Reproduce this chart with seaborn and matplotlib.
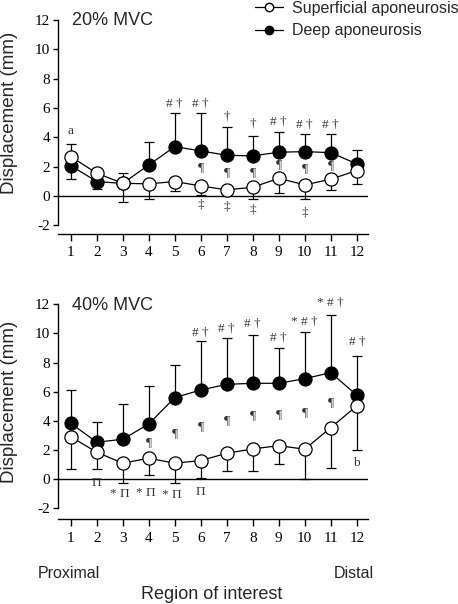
import numpy as np
import matplotlib
matplotlib.use("Agg")
import matplotlib.pyplot as plt
from matplotlib.lines import Line2D
import seaborn as sns

# regions of interest along the muscle
regions = [1, 2, 3, 4, 5, 6, 7, 8, 9, 10, 11, 12]

# 20% MVC
deep20 = [2.07, 0.98, 0.85, 2.11, 3.36, 3.07, 2.77, 2.73, 2.98, 3.02, 2.95, 2.18]
deep20_sd = [0.91, 0.50, 0.70, 1.59, 2.32, 2.56, 1.91, 1.36, 1.40, 1.18, 1.25, 0.96]
deep20_dir = [-1, -1, 1, 1, 1, 1, 1, 1, 1, 1, 1, 1]
sup20 = [2.68, 1.55, 0.86, 0.82, 0.98, 0.68, 0.41, 0.59, 1.20, 0.75, 1.14, 1.73]
sup20_sd = [0.86, 0.34, 1.31, 1.05, 0.68, 0.61, 0.25, 0.79, 0.97, 0.98, 0.77, 0.91]
sup20_dir = [1, 1, -1, -1, -1, -1, -1, -1, -1, -1, -1, -1]

# 40% MVC
deep40 = [3.84, 2.54, 2.74, 3.79, 5.60, 6.12, 6.51, 6.58, 6.58, 6.90, 7.31, 5.76]
deep40_sd = [2.28, 1.41, 2.40, 2.63, 2.22, 3.34, 3.18, 3.29, 2.45, 3.22, 3.94, 2.72]
deep40_dir = [1, 1, 1, 1, 1, 1, 1, 1, 1, 1, 1, 1]
sup40 = [2.92, 1.85, 1.10, 1.44, 1.10, 1.28, 1.78, 2.08, 2.30, 2.06, 3.54, 5.03]
sup40_sd = [2.19, 1.12, 1.37, 1.15, 1.33, 1.21, 1.21, 1.51, 1.25, 2.06, 2.79, 3.02]
sup40_dir = [-1, -1, -1, -1, -1, -1, -1, -1, -1, -1, -1, -1]

# significance marks (x, y, text)
marks20 = [
    (1, 4.43, "a"),
    (5, 6.30, "# †"), (6, 6.30, "# †"), (7, 5.40, "†"), (8, 4.95, "†"),
    (9, 5.07, "# †"), (10, 4.84, "# †"), (11, 4.90, "# †"),
    (6, 2.00, "¶"), (7, 1.66, "¶"), (8, 1.66, "¶"), (9, 2.18, "¶"),
    (10, 1.89, "¶"), (11, 2.11, "¶"),
    (6, -0.61, "‡"), (7, -0.73, "‡"), (8, -0.91, "‡"), (10, -1.11, "‡"),
]
marks40 = [
    (6, 10.06, "# †"), (7, 10.35, "# †"), (8, 10.65, "# †"), (9, 9.74, "# †"),
    (10, 10.81, "* # †"), (11, 12.11, "* # †"), (12, 9.44, "# †"),
    (4, 2.58, "¶"), (5, 3.15, "¶"), (6, 3.65, "¶"), (7, 4.07, "¶"),
    (8, 4.41, "¶"), (9, 4.48, "¶"), (10, 4.64, "¶"), (11, 5.32, "¶"),
    (2, -0.23, "Π"), (2.9, -1.03, "* Π"), (3.9, -0.96, "* Π"),
    (4.9, -1.08, "* Π"), (6, -0.85, "Π"),
    (12, 1.14, "b"),
]

sns.set_style("ticks")
plt.rcParams["font.family"] = ["Liberation Sans", "DejaVu Sans"]
plt.rcParams["axes.unicode_minus"] = False

SERIF = ["Liberation Serif", "DejaVu Serif"]

fig = plt.figure(figsize=(4.58, 6.04), dpi=100)
ax1 = fig.add_axes([57.7 / 458, 1 - 234 / 604, 310.3 / 458, 214 / 604])
ax2 = fig.add_axes([57.7 / 458, 1 - 519.3 / 604, 310.3 / 458, 215 / 604])


def panel(ax, deep, deep_sd, deep_dir, sup, sup_sd, sup_dir, marks, title, ybot):
    for mean, sd, d, z in [(deep, deep_sd, deep_dir, 1), (sup, sup_sd, sup_dir, 2)]:
        sd = np.array(sd)
        d = np.array(d)
        lower = np.where(d < 0, sd, 0)
        upper = np.where(d > 0, sd, 0)
        ax.errorbar(regions, mean, yerr=[lower, upper], fmt="none", ecolor="black",
                    elinewidth=0.9, capsize=3.5, capthick=0.9, zorder=z)
    sns.lineplot(x=regions, y=deep, ax=ax, color="black", marker="o", markersize=9.5,
                 markerfacecolor="black", markeredgecolor="black", linewidth=0.9, zorder=3)
    sns.lineplot(x=regions, y=sup, ax=ax, color="black", marker="o", markersize=9.5,
                 markerfacecolor="white", markeredgecolor="black", markeredgewidth=0.9,
                 linewidth=0.9, zorder=4)
    ax.axhline(0, color="black", lw=1.0, zorder=0)
    for x, y, t in marks:
        ax.text(x, y, t, ha="center", va="center", fontsize=9.5, family=SERIF,
                color="#333333", clip_on=False)
    ax.text(1.05, 11.95, title, ha="left", va="center", fontsize=13)
    ax.set_xlim(0.5, 12.43)
    ax.set_ylim(ybot, 12)
    ax.set_xticks(regions)
    ax.set_xticklabels([str(r) for r in regions])
    yt = np.arange(-2, 13, 2)
    ax.set_yticks(yt)
    ax.set_yticklabels([str(v) for v in yt])
    for lbl in ax.get_xticklabels() + ax.get_yticklabels():
        lbl.set_fontfamily(SERIF)
        lbl.set_fontsize(11)
    ax.spines["top"].set_visible(False)
    ax.spines["right"].set_visible(False)
    ax.spines["left"].set_bounds(-2, 12)
    for s in ["left", "bottom"]:
        ax.spines[s].set_linewidth(1.0)
        ax.spines[s].set_color("black")
    ax.tick_params(axis="x", length=5, width=1.0, pad=4, colors="black")
    ax.tick_params(axis="y", length=3.5, width=1.0, pad=2, colors="black")
    ax.set_ylabel("Displacement (mm)", fontsize=13.5)
    ax.set_xlabel("")


panel(ax1, deep20, deep20_sd, deep20_dir, sup20, sup20_sd, sup20_dir, marks20, "20% MVC", -2.6)
panel(ax2, deep40, deep40_sd, deep40_dir, sup40, sup40_sd, sup40_dir, marks40, "40% MVC", -2.75)
ax1.yaxis.set_label_coords(-0.128, 0.565)
ax2.yaxis.set_label_coords(-0.128, 0.545)

ax2.set_xlabel("Region of interest", fontsize=13)
ax2.xaxis.set_label_coords(0.497, -0.31)
fig.text(38 / 458, 1 - 573 / 604, "Proximal", ha="left", va="center", fontsize=11.5)
fig.text(374 / 458, 1 - 573 / 604, "Distal", ha="right", va="center", fontsize=11.5)

handles = [
    Line2D([], [], color="black", lw=0.9, marker="o", markersize=6,
           markerfacecolor="white", markeredgecolor="black"),
    Line2D([], [], color="black", lw=0.9, marker="o", markersize=6,
           markerfacecolor="black", markeredgecolor="black"),
]
fig.legend(handles, ["Superficial aponeurosis", "Deep aponeurosis"],
           loc="upper left", bbox_to_anchor=(255 / 458, 1 - 1 / 604), frameon=False,
           fontsize=11.5, handlelength=1.75, handletextpad=0.55, labelspacing=0.45,
           borderpad=0, borderaxespad=0)

fig.savefig("out.png", dpi=100)
